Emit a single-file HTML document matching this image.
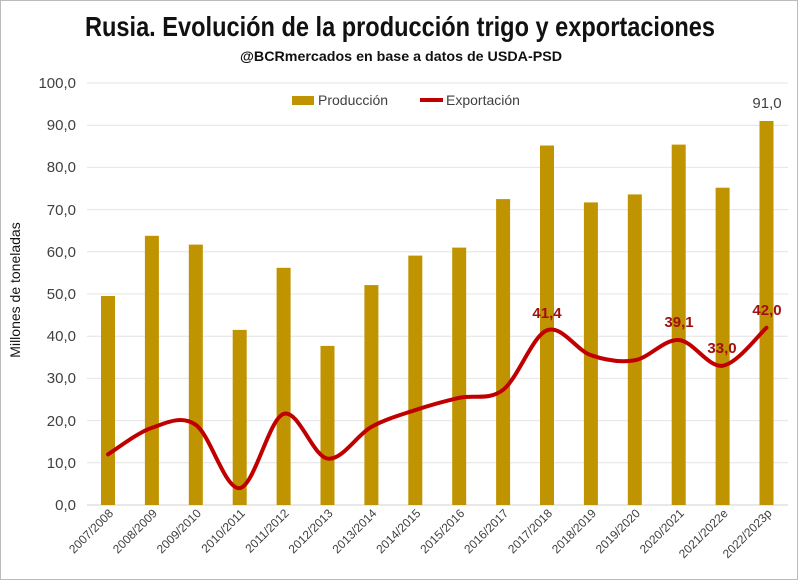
<!DOCTYPE html>
<html><head><meta charset="utf-8"><style>
body{margin:0;background:#fff}
svg{display:block;font-family:"Liberation Sans",sans-serif}
</style></head><body>
<svg width="798" height="580" viewBox="0 0 798 580">
<rect x="0.5" y="0.5" width="797" height="579" fill="#fff" stroke="#bbb"/>
<text x="400" y="36" text-anchor="middle" font-family="'Liberation Sans Narrow','Liberation Sans',sans-serif" font-weight="bold" font-size="28" fill="#111" textLength="630" lengthAdjust="spacingAndGlyphs">Rusia. Evolución de la producción trigo y exportaciones</text>
<text x="401" y="61" text-anchor="middle" font-family="'Liberation Sans Narrow','Liberation Sans',sans-serif" font-weight="bold" font-size="14" fill="#111" textLength="322" lengthAdjust="spacingAndGlyphs">@BCRmercados  en base a datos de USDA-PSD</text>
<g stroke="#e4e4e4" stroke-width="1">
<line x1="87" x2="788" y1="83" y2="83"/><line x1="87" x2="788" y1="125.2" y2="125.2"/><line x1="87" x2="788" y1="167.4" y2="167.4"/><line x1="87" x2="788" y1="209.6" y2="209.6"/><line x1="87" x2="788" y1="251.8" y2="251.8"/><line x1="87" x2="788" y1="294" y2="294"/><line x1="87" x2="788" y1="336.2" y2="336.2"/><line x1="87" x2="788" y1="378.4" y2="378.4"/><line x1="87" x2="788" y1="420.6" y2="420.6"/><line x1="87" x2="788" y1="462.8" y2="462.8"/>
</g>
<line x1="87" x2="788" y1="505" y2="505" stroke="#d0d0d0"/>
<g font-size="15" fill="#404040" text-anchor="end">
<text x="76" y="88">100,0</text><text x="76" y="130">90,0</text><text x="76" y="172">80,0</text><text x="76" y="215">70,0</text><text x="76" y="257">60,0</text><text x="76" y="299">50,0</text><text x="76" y="341">40,0</text><text x="76" y="383">30,0</text><text x="76" y="426">20,0</text><text x="76" y="468">10,0</text><text x="76" y="510">0,0</text>
</g>
<text transform="translate(20,290) rotate(-90)" text-anchor="middle" font-size="14" fill="#111">Millones de toneladas</text>
<g fill="#C09300">
<rect x="101" y="296" width="14" height="209"/>
<rect x="144.9" y="235.8" width="14" height="269.2"/>
<rect x="188.8" y="244.6" width="14" height="260.4"/>
<rect x="232.7" y="329.9" width="14" height="175.1"/>
<rect x="276.6" y="267.8" width="14" height="237.2"/>
<rect x="320.5" y="345.9" width="14" height="159.1"/>
<rect x="364.4" y="285.1" width="14" height="219.9"/>
<rect x="408.3" y="255.6" width="14" height="249.4"/>
<rect x="452.2" y="247.6" width="14" height="257.4"/>
<rect x="496.1" y="199.1" width="14" height="305.9"/>
<rect x="540" y="145.5" width="14" height="359.5"/>
<rect x="583.9" y="202.4" width="14" height="302.6"/>
<rect x="627.8" y="194.4" width="14" height="310.6"/>
<rect x="671.7" y="144.6" width="14" height="360.4"/>
<rect x="715.6" y="187.7" width="14" height="317.3"/>
<rect x="759.5" y="121" width="14" height="384"/>
</g>
<path id="exp" fill="none" stroke="#C00000" stroke-width="4" stroke-linecap="round" d="M108,454.4 L151.9,427.8 L195.8,424.8 L239.7,488.1 L283.6,413.8 L327.5,458.6 L371.4,426.9 L415.3,410 L459.2,397.8 L503.1,389.8 L547,330.3 L590.9,355.2 L634.8,360.3 L678.7,340 L722.6,365.7 L766.5,327.8"/>
<g font-size="15" font-weight="bold" fill="#A01010" text-anchor="middle">
<text x="547" y="318">41,4</text><text x="679" y="327">39,1</text><text x="722" y="353">33,0</text><text x="767" y="315">42,0</text>
</g>
<text x="767" y="108" text-anchor="middle" font-size="15" fill="#404040">91,0</text>
<rect x="292" y="96" width="22" height="9" fill="#C09300"/>
<text x="318" y="105" font-size="14" fill="#404040">Producción</text>
<line x1="420" x2="443" y1="100" y2="100" stroke="#C00000" stroke-width="4"/>
<text x="446" y="105" font-size="14" fill="#404040">Exportación</text>
<g font-size="12" fill="#404040" text-anchor="end">
<text transform="translate(114,514) rotate(-45)">2007/2008</text>
<text transform="translate(157.9,514) rotate(-45)">2008/2009</text>
<text transform="translate(201.8,514) rotate(-45)">2009/2010</text>
<text transform="translate(245.7,514) rotate(-45)">2010/2011</text>
<text transform="translate(289.6,514) rotate(-45)">2011/2012</text>
<text transform="translate(333.5,514) rotate(-45)">2012/2013</text>
<text transform="translate(377.4,514) rotate(-45)">2013/2014</text>
<text transform="translate(421.3,514) rotate(-45)">2014/2015</text>
<text transform="translate(465.2,514) rotate(-45)">2015/2016</text>
<text transform="translate(509.1,514) rotate(-45)">2016/2017</text>
<text transform="translate(553,514) rotate(-45)">2017/2018</text>
<text transform="translate(596.9,514) rotate(-45)">2018/2019</text>
<text transform="translate(640.8,514) rotate(-45)">2019/2020</text>
<text transform="translate(684.7,514) rotate(-45)">2020/2021</text>
<text transform="translate(728.6,514) rotate(-45)">2021/2022e</text>
<text transform="translate(772.5,514) rotate(-45)">2022/2023p</text>
</g>
</svg>
<script>
(function(){
var xs=[],ys=[12,18.3,19,4,21.6,11,18.5,22.5,25.4,27.3,41.4,35.5,34.3,39.1,33,42];
var p=[];for(var i=0;i<16;i++)p.push([108+i*43.9,505-4.22*ys[i]]);
var d="M"+p[0][0]+","+p[0][1];
for(var i=0;i<15;i++){var a=p[i>0?i-1:i],b=p[i],c=p[i+1],e=p[i<14?i+2:i+1],t=6;
d+=" C"+(b[0]+(c[0]-a[0])/t)+","+(b[1]+(c[1]-a[1])/t)+" "+(c[0]-(e[0]-b[0])/t)+","+(c[1]-(e[1]-b[1])/t)+" "+c[0]+","+c[1];}
document.getElementById("exp").setAttribute("d",d);
})();
</script>
</body></html>
